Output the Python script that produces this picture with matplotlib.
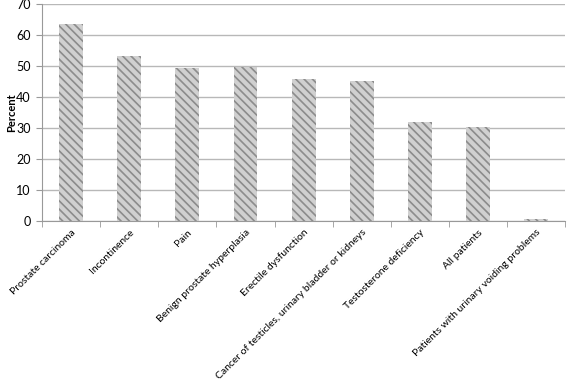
import matplotlib
matplotlib.use("Agg")
import matplotlib.pyplot as plt
import numpy as np

# Datos
categories = [
    "Prostate carcinoma",
    "Incontinence",
    "Pain",
    "Benign prostate hyperplasia",
    "Erectile dysfunction",
    "Cancer of testicles, urinary bladder or kidneys",
    "Testosterone deficiency",
    "All patients",
    "Patients with urinary voiding problems",
]
percent = [63.5, 53.2, 49.4, 49.5, 45.8, 45.2, 31.8, 30.4, 0.6]

plt.rcParams["font.family"] = ["Lato", "DejaVu Sans"]
plt.rcParams["hatch.linewidth"] = 1.2
plt.rcParams["hatch.color"] = "#8c8c8c"

fig = plt.figure(figsize=(5.67, 3.81), dpi=100)
ax = fig.add_axes([0.074, 0.42, 0.923, 0.57])

x = np.arange(len(categories))
ax.bar(x, percent, width=0.41, color="#d0d0d0", hatch="\\\\\\\\",
       edgecolor="#8c8c8c", linewidth=0, zorder=3)

ax.set_xlim(-0.5, len(categories) - 0.5)
ax.set_ylim(0, 70)
ax.set_yticks(range(0, 71, 10))
ax.yaxis.grid(True, color="#b8b8b8", linewidth=1, zorder=0)

ax.set_xticks(x)
ax.set_xticklabels(categories, rotation=45, ha="right", rotation_mode="anchor",
                   fontsize=7.5)
ax.tick_params(axis="x", length=0, pad=5)
ax.set_xticks(np.arange(-0.5, len(categories), 1), minor=True)
ax.tick_params(axis="x", which="minor", length=4, color="#999999")
ax.tick_params(axis="y", length=4, color="#999999", labelsize=9, pad=4)

for side in ["top", "right"]:
    ax.spines[side].set_visible(False)
for side in ["left", "bottom"]:
    ax.spines[side].set_color("#999999")

ax.set_ylabel("Percent", fontsize=8, fontweight="bold")
ax.yaxis.set_label_coords(-0.048, 0.5)

fig.savefig("out.png", dpi=100)
